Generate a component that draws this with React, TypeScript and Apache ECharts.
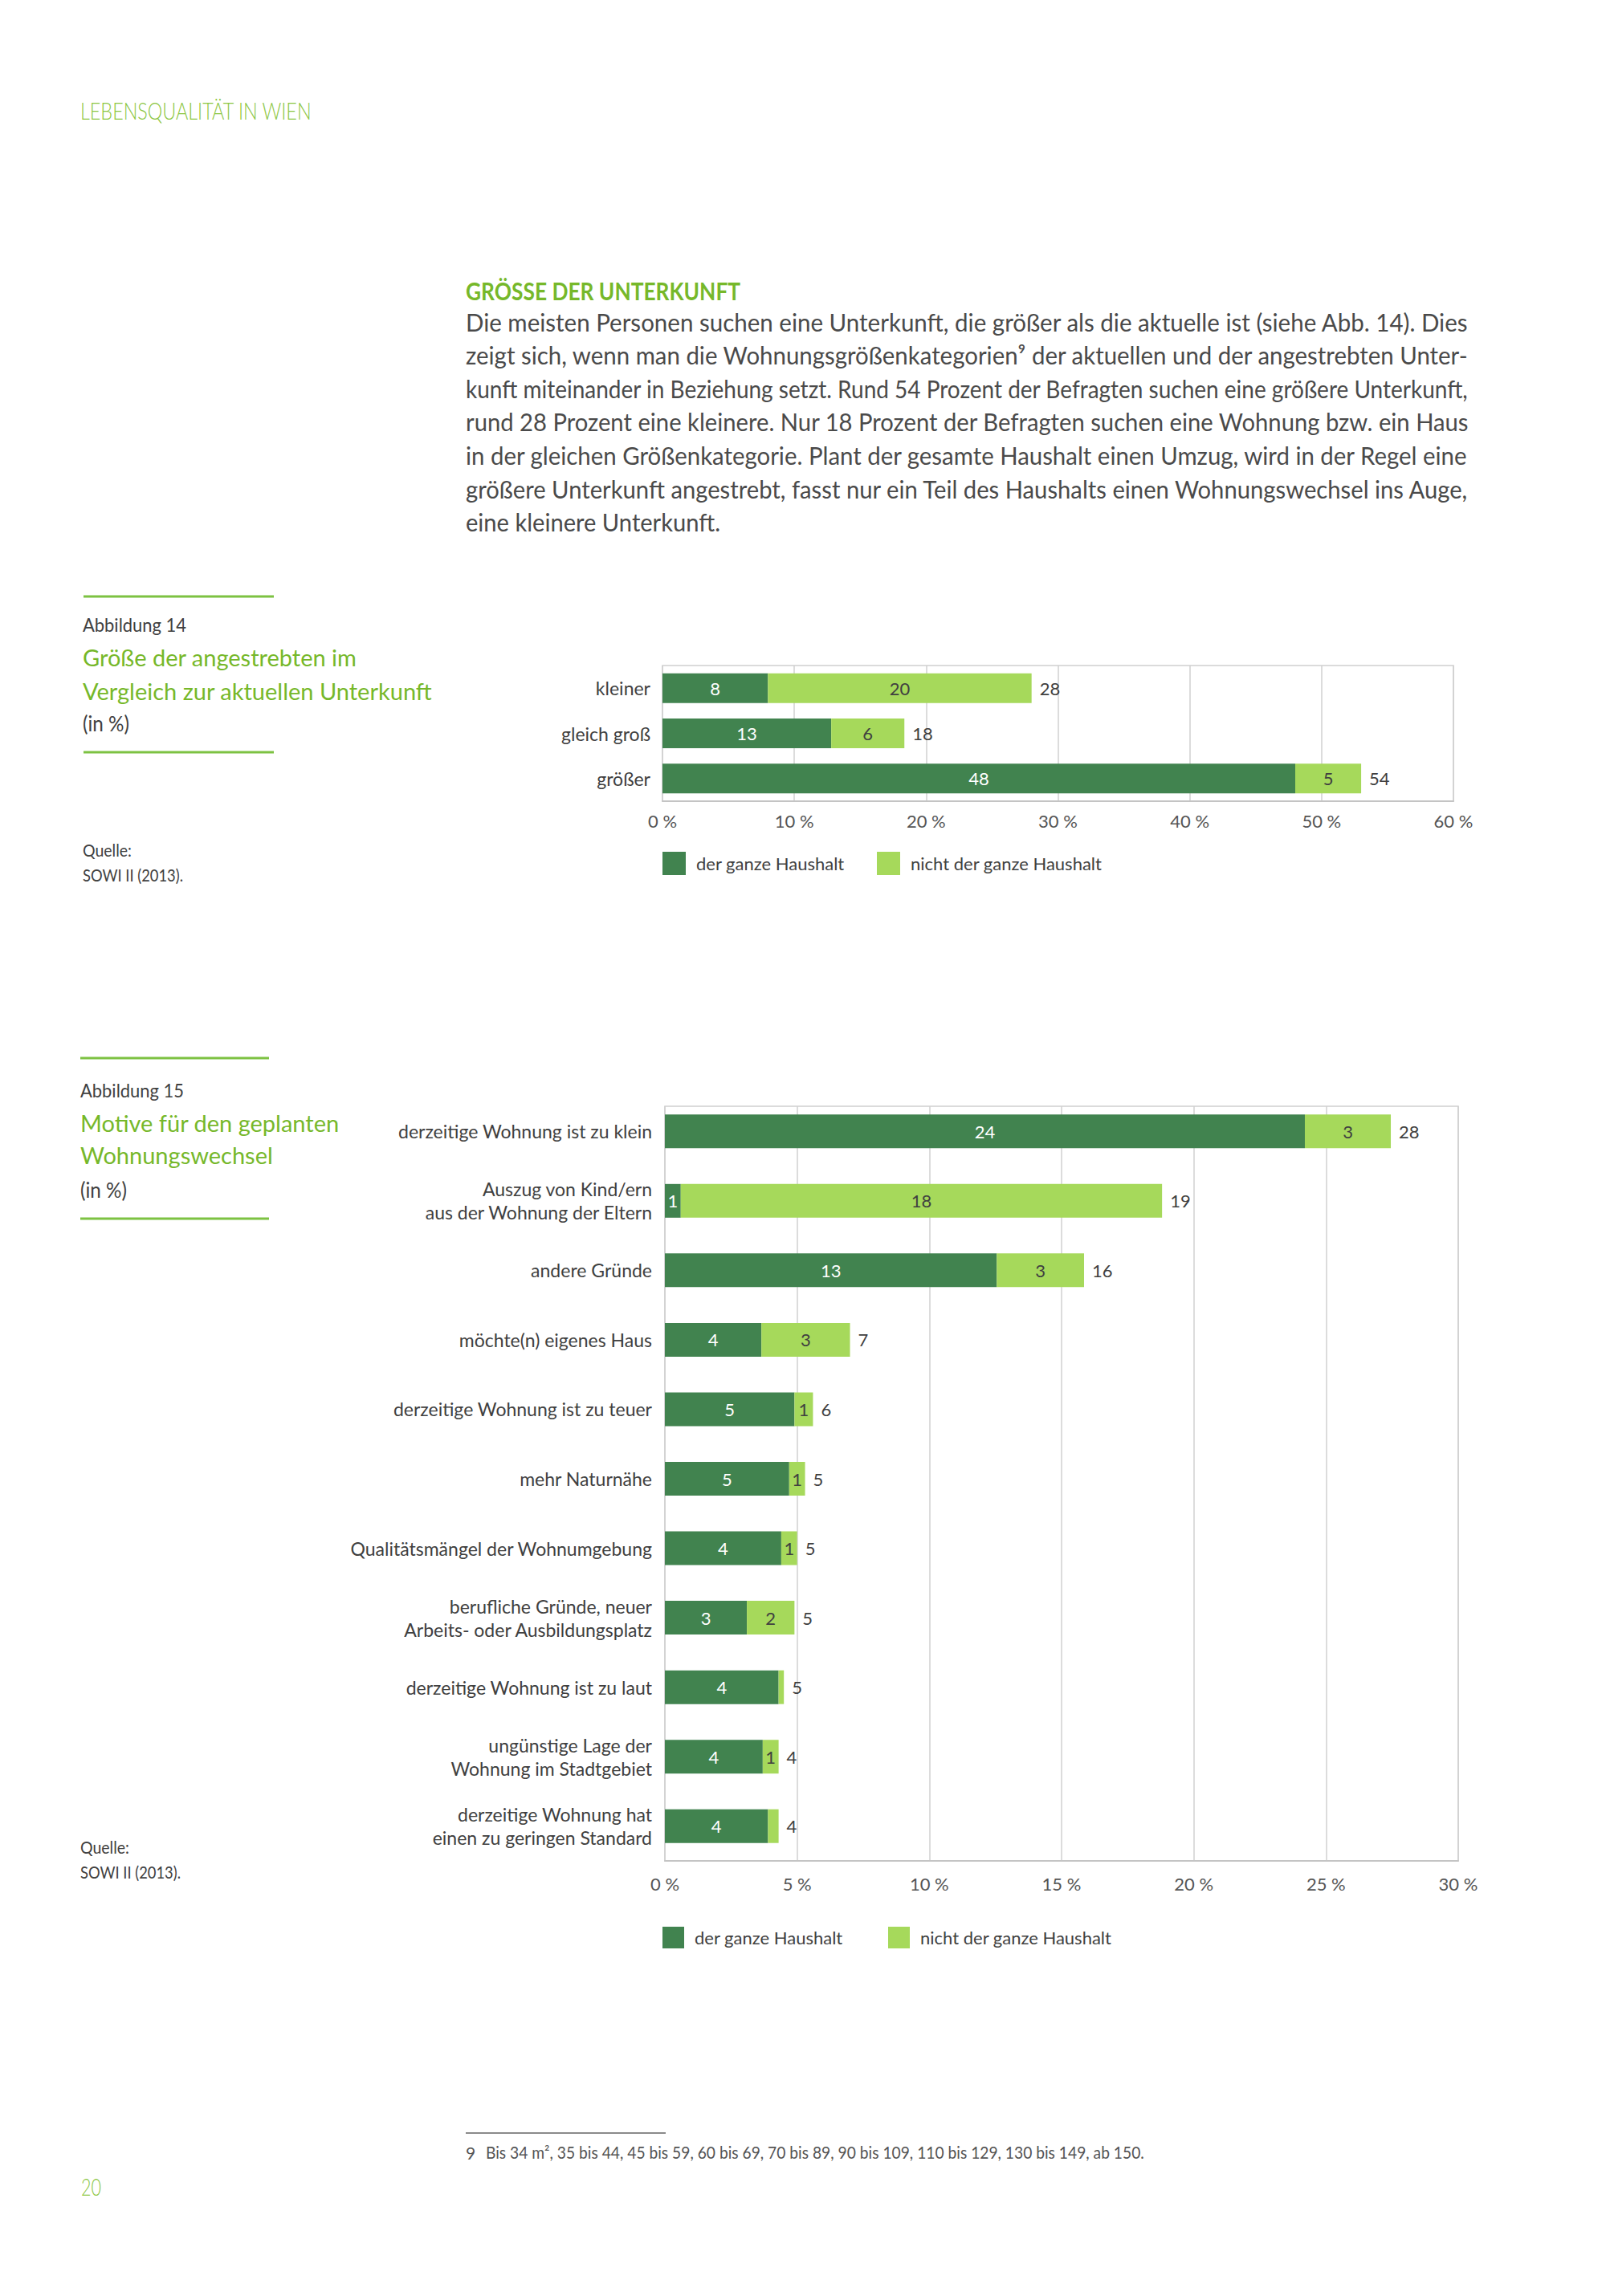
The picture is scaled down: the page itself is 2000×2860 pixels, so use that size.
import React, { useEffect, useRef } from "react";
import * as echarts from "echarts";

// ---------- texts ----------
const headerText = "LEBENSQUALITÄT IN WIEN";
const sectionTitle = "GRÖSSE DER UNTERKUNFT";
const bodyLines = [
  "Die meisten Personen suchen eine Unterkunft, die größer als die aktuelle ist (siehe Abb. 14). Dies",
  "zeigt sich, wenn man die Wohnungsgrößenkategorien⁹ der aktuellen und der angestrebten Unter-",
  "kunft miteinander in Beziehung setzt. Rund 54 Prozent der Befragten suchen eine größere Unterkunft,",
  "rund 28 Prozent eine kleinere. Nur 18 Prozent der Befragten suchen eine Wohnung bzw. ein Haus",
  "in der gleichen Größenkategorie. Plant der gesamte Haushalt einen Umzug, wird in der Regel eine",
  "größere Unterkunft angestrebt, fasst nur ein Teil des Haushalts einen Wohnungswechsel ins Auge,",
  "eine kleinere Unterkunft.",
];
const footnoteNumber = "9";
const footnoteText =
  "Bis 34 m², 35 bis 44, 45 bis 59, 60 bis 69, 70 bis 89, 90 bis 109, 110 bis 129, 130 bis 149, ab 150.";
const pageNumber = "20";

const fig14Label = "Abbildung 14";
const fig14TitleLines = ["Größe der angestrebten im", "Vergleich zur aktuellen Unterkunft"];
const fig15Label = "Abbildung 15";
const fig15TitleLines = ["Motive für den geplanten", "Wohnungswechsel"];
const unitText = "(in %)";
const sourceLines = ["Quelle:", "SOWI II (2013)."];

const seriesNames = ["der ganze Haushalt", "nicht der ganze Haushalt"];

// ---------- Abbildung 14 data ----------
const fig14Categories = ["kleiner", "gleich groß", "größer"];
const fig14Whole = [8.0, 12.8, 48.0];
const fig14NotWhole = [20.0, 5.55, 5.0];
const fig14Totals = [28, 18, 54];
const fig14Ticks = [0, 10, 20, 30, 40, 50, 60];

// ---------- Abbildung 15 data ----------
const fig15Categories = [
  "derzeitige Wohnung ist zu klein",
  "Auszug von Kind/ern\naus der Wohnung der Eltern",
  "andere Gründe",
  "möchte(n) eigenes Haus",
  "derzeitige Wohnung ist zu teuer",
  "mehr Naturnähe",
  "Qualitätsmängel der Wohnumgebung",
  "berufliche Gründe, neuer\nArbeits- oder Ausbildungsplatz",
  "derzeitige Wohnung ist zu laut",
  "ungünstige Lage der\nWohnung im Stadtgebiet",
  "derzeitige Wohnung hat\neinen zu geringen Standard",
];
const fig15Whole = [24.2, 0.6, 12.55, 3.65, 4.9, 4.7, 4.4, 3.1, 4.3, 3.7, 3.9];
const fig15NotWhole = [3.25, 18.2, 3.3, 3.35, 0.7, 0.6, 0.6, 1.8, 0.2, 0.6, 0.4];
const fig15Totals = [28, 19, 16, 7, 6, 5, 5, 5, 5, 4, 4];
const fig15Ticks = [0, 5, 10, 15, 20, 25, 30];

// ---------- styles ----------
const FONT = "Lato, 'Liberation Sans', sans-serif";
const DARK = "#41834f";
const LIGHT = "#a6d95b";
const GREEN = "#76b82a";
const LIGHTGREEN = "#8cc63f";
const TEXT = "#404040";
const BODY = "#4a4a4a";
const GRIDLINE = "#d0d0d0";

let measureCtx: CanvasRenderingContext2D | null = null;
function measure(text: string, size: number, weight: any) {
  if (!measureCtx) measureCtx = document.createElement("canvas").getContext("2d");
  if (!measureCtx) return 1;
  measureCtx.font = `${weight} ${size}px ${FONT}`;
  return measureCtx.measureText(text).width || 1;
}

function txt(x: number, y: number, text: string, size: number, color: string, weight: any = "normal", scaleX = 1) {
  return {
    type: "text",
    x,
    y,
    scaleX,
    silent: true,
    style: { text, fontSize: size, fontFamily: FONT, fontWeight: weight, fill: color, align: "left", verticalAlign: "middle" },
  };
}
// text fitted horizontally to a width measured on the reference
function fit(x: number, y: number, text: string, size: number, color: string, weight: any, width: number) {
  return txt(x, y, text, size, color, weight, width / measure(text, size, weight));
}
function hline(x1: number, x2: number, y: number, color: string, w: number) {
  return { type: "line", silent: true, shape: { x1, y1: y, x2, y2: y }, style: { stroke: color, lineWidth: w } };
}

function valueAxis(gridIndex: number, ticks: number[], show: boolean) {
  return {
    type: "value",
    gridIndex,
    min: ticks[0],
    max: ticks[ticks.length - 1],
    interval: ticks[1] - ticks[0],
    show,
    axisLine: { show: true, lineStyle: { color: "#c4c4c4", width: 2 } },
    axisTick: { show: false },
    axisLabel: {
      show: true,
      formatter: (v: number) => `${v} %`,
      fontSize: 22,
      color: "#555555",
      fontFamily: FONT,
      margin: gridIndex === 0 ? 13 : 17,
    },
    splitLine: { show: true, lineStyle: { color: GRIDLINE, width: 1.5 } },
  };
}

function catAxis(gridIndex: number, data: string[], margin: number) {
  return {
    type: "category",
    gridIndex,
    data,
    inverse: true,
    axisLine: { show: false },
    axisTick: { show: false },
    splitLine: { show: false },
    axisLabel: { fontSize: 23, color: TEXT, fontFamily: FONT, margin, lineHeight: 29 },
  };
}

function stackSeries(name: string, xi: number, yi: number, stack: string, data: number[], color: string, labelColor: string, barWidth: number) {
  return {
    name,
    type: "bar",
    xAxisIndex: xi,
    yAxisIndex: yi,
    stack,
    data,
    barWidth,
    itemStyle: { color },
    label: {
      show: true,
      position: "inside",
      color: labelColor,
      fontSize: 22,
      fontFamily: FONT,
      formatter: (p: any) => {
        const r = Math.round(p.value);
        return r === 0 ? "" : String(r);
      },
    },
  };
}

function totalSeries(xi: number, yi: number, stack: string, totals: number[], barWidth: number) {
  return {
    name: "Summe",
    type: "bar",
    xAxisIndex: xi,
    yAxisIndex: yi,
    stack,
    data: totals.map(() => 0),
    barWidth,
    itemStyle: { color: "rgba(0,0,0,0)" },
    label: {
      show: true,
      position: "right",
      distance: 10,
      color: TEXT,
      fontSize: 22,
      fontFamily: FONT,
      formatter: (p: any) => String(totals[p.dataIndex]),
    },
  };
}

function legendItem(name: string, left: number, top: number, size: number) {
  return {
    data: [name],
    left,
    top,
    padding: 0,
    itemWidth: size,
    itemHeight: size,
    icon: "rect",
    selectedMode: false,
    textStyle: { fontSize: 22, color: TEXT, fontFamily: FONT, padding: [0, 0, 0, 8] },
  };
}

function buildOption() {
  const graphics: any[] = [];
  graphics.push(fit(100, 138, headerText, 29, LIGHTGREEN, 300, 289));
  graphics.push(fit(580, 362, sectionTitle, 31, GREEN, "bold", 342));

  // justified body: full lines stretched to the column width, last line at the mean scale
  const colWidth = 1250;
  const scales = bodyLines.slice(0, -1).map((l) => colWidth / measure(l, 30, "normal"));
  const meanScale = scales.reduce((a, b) => a + b, 0) / scales.length;
  bodyLines.forEach((line, i) =>
    graphics.push(txt(580, 401 + i * 41.6, line, 30, BODY, "normal", i < scales.length ? scales[i] : meanScale))
  );

  // Abbildung 14 side block
  graphics.push(hline(104, 341, 743, "#7dc242", 3));
  graphics.push(fit(103, 778, fig14Label, 24, TEXT, "normal", 129));
  fig14TitleLines.forEach((l, i) => graphics.push(txt(103, 818 + i * 42, l, 29, GREEN)));
  graphics.push(fit(103, 901, unitText, 26, TEXT, "normal", 58));
  graphics.push(hline(104, 341, 937, "#7dc242", 3));
  graphics.push(fit(103, 1059, sourceLines[0], 21, TEXT, "normal", 61));
  graphics.push(fit(103, 1090, sourceLines[1], 21, TEXT, "normal", 125));

  // Abbildung 15 side block
  graphics.push(hline(100, 335, 1318, "#7dc242", 3));
  graphics.push(fit(100, 1358, fig15Label, 24, TEXT, "normal", 129));
  fig15TitleLines.forEach((l, i) => graphics.push(txt(100, 1398 + i * 40, l, 29, GREEN)));
  graphics.push(fit(100, 1482, unitText, 26, TEXT, "normal", 58));
  graphics.push(hline(100, 335, 1518, "#7dc242", 3));
  graphics.push(fit(100, 2301, sourceLines[0], 21, TEXT, "normal", 61));
  graphics.push(fit(100, 2332, sourceLines[1], 21, TEXT, "normal", 125));

  // footnote + page number
  graphics.push(hline(580, 829, 2657, "#8a8a8a", 2));
  graphics.push(txt(580, 2681, footnoteNumber, 21, "#555555"));
  graphics.push(fit(605, 2681, footnoteText, 21, "#555555", "normal", 820));
  graphics.push(fit(101, 2724, pageNumber, 29, LIGHTGREEN, 300, 25));

  return {
    animation: false,
    backgroundColor: "#ffffff",
    grid: [
      { left: 825, top: 829, width: 985, height: 169, show: true, borderColor: GRIDLINE, borderWidth: 1.5, containLabel: false },
      { left: 828, top: 1378, width: 988, height: 940, show: true, borderColor: GRIDLINE, borderWidth: 1.5, containLabel: false },
      { left: 828, top: 1366, width: 988, height: 952, show: false, containLabel: false },
    ],
    xAxis: [valueAxis(0, fig14Ticks, true), valueAxis(1, fig15Ticks, true), valueAxis(2, fig15Ticks, false)],
    yAxis: [
      catAxis(0, fig14Categories, 15),
      { type: "value", gridIndex: 1, min: 0, max: 1, show: false },
      catAxis(2, fig15Categories, 16),
    ],
    legend: [
      legendItem(seriesNames[0], 825, 1061, 29),
      legendItem(seriesNames[1], 1092, 1061, 29),
      legendItem(seriesNames[0], 825, 2400, 27),
      legendItem(seriesNames[1], 1106, 2400, 27),
    ],
    series: [
      stackSeries(seriesNames[0], 0, 0, "f14", fig14Whole, DARK, "#ffffff", 37),
      stackSeries(seriesNames[1], 0, 0, "f14", fig14NotWhole, LIGHT, TEXT, 37),
      totalSeries(0, 0, "f14", fig14Totals, 37),
      stackSeries(seriesNames[0], 2, 2, "f15", fig15Whole, DARK, "#ffffff", 42),
      stackSeries(seriesNames[1], 2, 2, "f15", fig15NotWhole, LIGHT, TEXT, 42),
      totalSeries(2, 2, "f15", fig15Totals, 42),
    ],
    graphic: { elements: graphics },
  };
}

export default function App() {
  const ref = useRef<HTMLDivElement>(null);
  useEffect(() => {
    if (!ref.current) return;
    const chart = echarts.init(ref.current, undefined, { renderer: "svg" });
    chart.setOption(buildOption() as any);
    return () => chart.dispose();
  }, []);
  return (
    <div
      ref={ref}
      style={{ position: "absolute", left: 0, top: 0, width: 2000, height: 2860, background: "#ffffff" }}
    />
  );
}
